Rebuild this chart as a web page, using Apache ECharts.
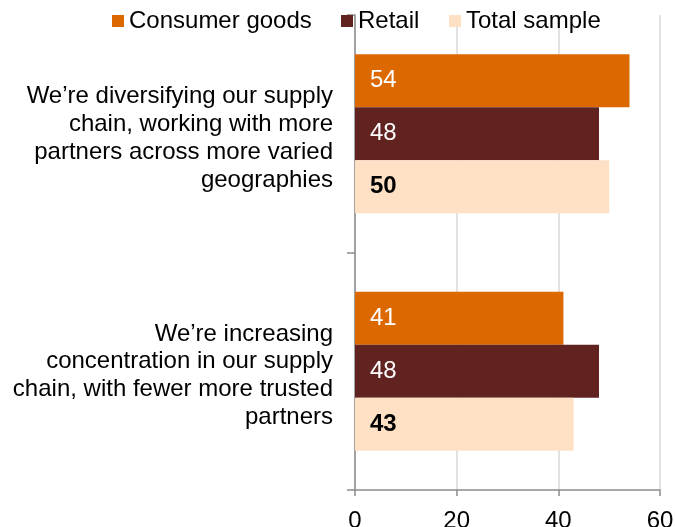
<!DOCTYPE html>
<html>
<head>
<meta charset="utf-8">
<script src="https://cdn.jsdelivr.net/npm/echarts@6/dist/echarts.min.js"></script>
<style>
  html, body { margin: 0; padding: 0; background: #ffffff; }
  #chart { width: 675px; height: 527px; }
</style>
</head>
<body>
<div id="chart"></div>
<script>
// Survey statements (label line breaks as shown on the axis)
const categories = [
  'We\u2019re diversifying our supply\nchain, working with more\npartners across more varied\ngeographies',
  'We\u2019re increasing\nconcentration in our supply\nchain, with fewer more trusted\npartners'
];
const seriesNames = ['Consumer goods', 'Retail', 'Total sample'];
const consumerGoods = [54, 41];
const retail = [48, 48];
const totalSample = [50, 43];
const xTicks = [0, 20, 40, 60];

const colors = ['#dc6900', '#602320', '#fee0c4'];
const fontFamily = '"Liberation Sans", Arial, sans-serif';

const chart = echarts.init(document.getElementById('chart'), null, { renderer: 'canvas' });

// One legend block per series so each entry sits at its own x position
function legendAt(name, left) {
  return {
    data: [name],
    left: left,
    top: 9,
    icon: 'rect',
    itemWidth: 12,
    itemHeight: 12,
    itemGap: 0,
    padding: 0,
    textStyle: { fontFamily: fontFamily, fontSize: 24, color: '#000000' }
  };
}

function barLabel(bold, color) {
  return {
    show: true,
    position: 'insideLeft',
    distance: 15,
    fontFamily: fontFamily,
    fontSize: 24,
    fontWeight: bold ? 'bold' : 'normal',
    color: color
  };
}

const values = [consumerGoods, retail, totalSample];
const labels = [barLabel(false, '#ffffff'), barLabel(false, '#ffffff'), barLabel(true, '#000000')];

chart.setOption({
  animation: false,
  color: colors,
  legend: [
    legendAt(seriesNames[0], 112),
    legendAt(seriesNames[1], 341),
    legendAt(seriesNames[2], 449)
  ],
  grid: {
    left: 355, right: 15, top: 15, bottom: 37,
    containLabel: false,
    outerBoundsMode: 'none'
  },
  xAxis: {
    type: 'value',
    min: xTicks[0],
    max: xTicks[xTicks.length - 1],
    interval: xTicks[1] - xTicks[0],
    axisLine: { show: true, lineStyle: { color: '#8c8c8c', width: 1.5 } },
    axisTick: { show: true, length: 6, lineStyle: { color: '#8c8c8c', width: 1.5 } },
    splitLine: { show: true, lineStyle: { color: '#d9d9d9', width: 1.5 } },
    axisLabel: { fontFamily: fontFamily, fontSize: 24, color: '#000000', margin: 19 }
  },
  yAxis: {
    type: 'category',
    inverse: true,
    data: categories,
    axisLine: { show: true, lineStyle: { color: '#8c8c8c', width: 1.5 } },
    axisTick: { show: true, length: 8, lineStyle: { color: '#8c8c8c', width: 1.5 } },
    axisLabel: {
      fontFamily: fontFamily,
      fontSize: 24,
      lineHeight: 27.8,
      color: '#000000',
      align: 'right',
      margin: 22,
      // a short blank first line nudges the text block slightly below the band centre
      formatter: (value) => '{gap|}\n' + value,
      rich: {
        gap: { lineHeight: 9, fontSize: 9 }
      }
    }
  },
  series: seriesNames.map((name, i) => ({
    name: name,
    type: 'bar',
    data: values[i],
    barGap: '0%',
    barCategoryGap: '33%',
    label: labels[i],
    itemStyle: { color: colors[i] }
  }))
});
</script>
</body>
</html>
